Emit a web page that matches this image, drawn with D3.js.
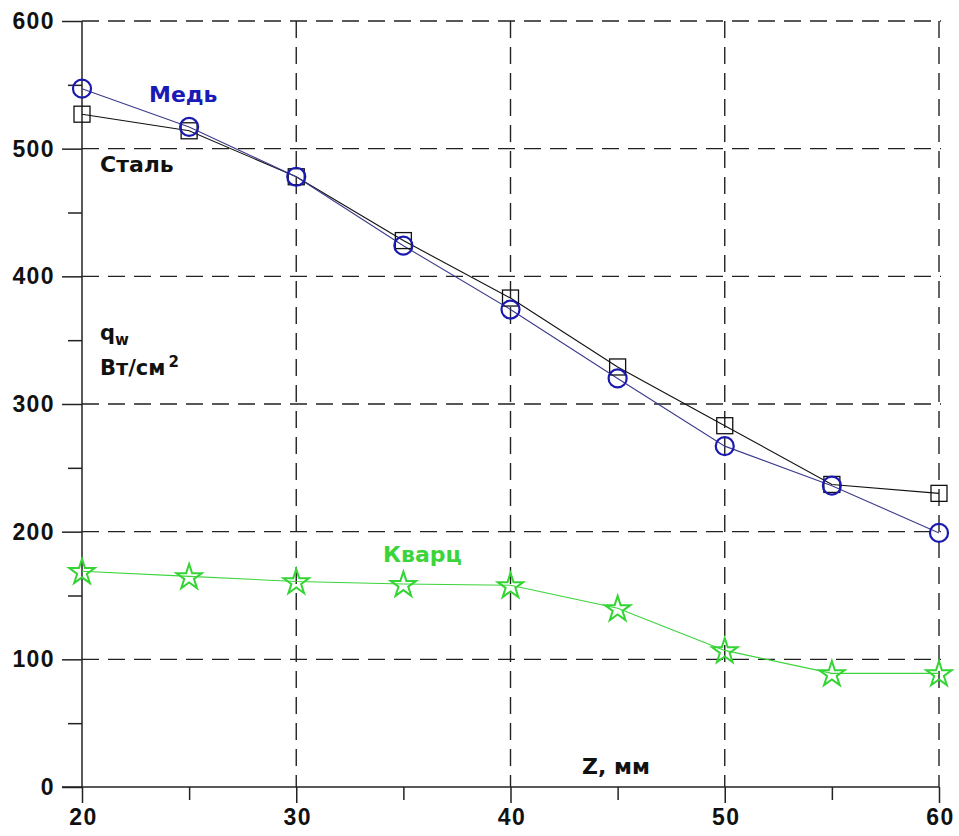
<!DOCTYPE html>
<html>
<head>
<meta charset="utf-8">
<script src="https://cdn.jsdelivr.net/npm/d3@7"></script>
<style>
  body { margin: 0; background: #fff; }
  text.lbl { font-family: "DejaVu Sans", Verdana, sans-serif; font-weight: bold; }
</style>
</head>
<body>
<div class="chart"></div>
<script>
const zValues = [20, 25, 30, 35, 40, 45, 50, 55, 60];
const copper = [547, 517, 478, 424, 374, 320, 267, 236, 199];
const steel = [527, 514, 478, 428, 383, 329, 283, 237, 230];
const quartz = [169, 165, 161, 159, 158, 140, 107, 89, 89];
const xTicks = [20, 30, 40, 50, 60];
const yTicks = [0, 100, 200, 300, 400, 500, 600];

const width = 959, height = 836;
const svg = d3.select(".chart").append("svg")
  .attr("width", width).attr("height", height);

const x = d3.scaleLinear().domain([20, 60]).range([82, 939]);
const y = d3.scaleLinear().domain([0, 600]).range([787, 21]);

// grid
const grid = svg.append("g").attr("stroke", "#222").attr("stroke-width", 1.4)
  .attr("stroke-dasharray", "17,9");
grid.selectAll("line.h").data(yTicks.filter(d => d > 0)).enter().append("line")
  .attr("x1", x(20)).attr("x2", x(60) + 2)
  .attr("y1", d => y(d)).attr("y2", d => y(d));
grid.selectAll("line.v").data(xTicks.filter(d => d > 20)).enter().append("line")
  .attr("y1", y(600)).attr("y2", y(0))
  .attr("x1", d => x(d)).attr("x2", d => x(d));

// axes
const yAxis = d3.axisLeft(y).tickValues(yTicks).tickSize(20).tickPadding(7);
const gy = svg.append("g").attr("transform", `translate(${x(20)},0)`).call(yAxis);
gy.select(".domain").attr("d", `M0,${y(600)}V${y(0)}`);
svg.append("g").attr("transform", `translate(${x(20)},0)`)
  .call(d3.axisLeft(y).tickValues(d3.range(50, 600, 100)).tickSize(14).tickFormat(""))
  .select(".domain").remove();

const xAxis = d3.axisBottom(x).tickValues(xTicks).tickSize(16).tickPadding(6);
const gx = svg.append("g").attr("transform", `translate(0,${y(0)})`).call(xAxis);
gx.select(".domain").attr("d", `M${x(20) - 20},0H${x(60)}`);
svg.append("g").attr("transform", `translate(0,${y(0)})`)
  .call(d3.axisBottom(x).tickValues([25, 35, 45, 55]).tickSize(13).tickFormat(""))
  .select(".domain").remove();
svg.selectAll(".tick text")
  .style("font-family", "'Liberation Sans', Arial, sans-serif")
  .style("font-weight", "bold").style("font-size", "23px")
  .style("letter-spacing", "1.4px").attr("fill", "#111");
gx.selectAll(".tick text").attr("dx", 1);
svg.selectAll(".tick line").attr("stroke-width", 1.5).attr("stroke", "#222");
svg.selectAll(".domain").attr("stroke-width", 1.5).attr("stroke", "#222");

const line = d3.line().x((d, i) => x(zValues[i])).y(d => y(d));

function series(vals, lineColor) {
  svg.append("path").datum(vals).attr("d", line)
    .attr("fill", "none").attr("stroke", lineColor).attr("stroke-width", 1.1);
}
series(steel, "#111");
series(copper, "#3c3c8c");
series(quartz, "#3bd43b");

// markers
svg.selectAll("rect.steel").data(steel).enter().append("rect")
  .attr("x", (d, i) => x(zValues[i]) - 8).attr("y", d => y(d) - 8)
  .attr("width", 16).attr("height", 16)
  .attr("fill", "none").attr("stroke", "#111").attr("stroke-width", 1.3);
svg.selectAll("circle.copper").data(copper).enter().append("circle")
  .attr("cx", (d, i) => x(zValues[i])).attr("cy", d => y(d)).attr("r", 9)
  .attr("fill", "none").attr("stroke", "#1a1ab0").attr("stroke-width", 2.2);
const star = d3.symbol().type(d3.symbolStar).size(200);
svg.selectAll("path.quartz").data(quartz).enter().append("path")
  .attr("d", star)
  .attr("transform", (d, i) => `translate(${x(zValues[i])},${y(d) + 1})`)
  .attr("fill", "none").attr("stroke", "#33d433").attr("stroke-width", 2);

// labels
function label(tx, ty, size, color, str) {
  return svg.append("text").attr("class", "lbl").attr("x", tx).attr("y", ty)
    .attr("font-size", size).attr("fill", color).text(str);
}
label(149, 102, 22, "#1a1ab8", "Медь");
label(100, 172, 22, "#111", "Сталь");
label(383, 562, 22, "#3bd43b", "Кварц");
const q = label(100, 340, 21, "#111", null);
q.append("tspan").text("q");
q.append("tspan").attr("font-size", 15).attr("dy", 5).text("w");
const u = label(100, 375, 21, "#111", null);
u.append("tspan").text("Вт/см");
u.append("tspan").attr("font-size", 15).attr("dy", -8).attr("dx", 3).text("2");
label(582, 774, 22, "#111", "Z, мм");
</script>
</body>
</html>
